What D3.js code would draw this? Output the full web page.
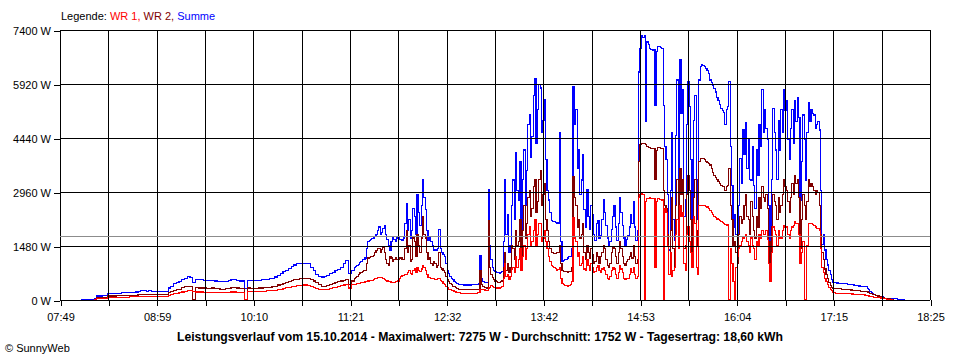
<!DOCTYPE html>
<html><head><meta charset="utf-8">
<script src="https://cdn.jsdelivr.net/npm/d3@7"></script>
<style>
body{margin:0;background:#fff}
svg{display:block}
text{font-family:"Liberation Sans",Arial,sans-serif;font-size:11px;fill:#000}
</style>
</head><body><svg id="c" width="960" height="360"></svg>
<script>
// ---- data ----
// morning samples every 2 minutes, from 11:24 on every minute
const start2min = "08:04", start1min = "11:24";
const axisStart = "07:49", axisEnd = "18:25";
const xTickLabels = ["07:49","08:59","10:10","11:21","12:32","13:42","14:53","16:04","17:15","18:25"];
const yTicks = [0,1480,2960,4440,5920,7400];
const average = 1752;
const legendItems = [["WR 1","#ff0000"],["WR 2","#800000"],["Summe","#0000ff"]];
const title = "Leistungsverlauf vom 15.10.2014 - Maximalwert: 7275 W - Durchschnitt: 1752 W - Tagesertrag: 18,60 kWh";
const credit = "\u00A9 SunnyWeb";

const summe2min = [20,20,25,25,25,30,110,110,120,120,
180,180,190,190,190,200,200,200,210,210,
220,240,250,250,240,250,230,230,240,230,
230,230,330,380,450,480,500,560,600,640,
620,480,560,550,550,540,530,530,540,520,
510,500,500,510,530,560,570,540,520,520,
320,530,530,540,540,540,550,560,570,580,
600,630,680,720,770,820,870,920,960,1000,
1010,1000,1010,990,900,800,700,650,630,640,
680,720,760,800,840,900,1000,1080,730,820];

const wr2_2min = [null,null,null,null,null,15,70,70,75,75,
110,110,110,115,115,120,120,120,125,125,
130,145,150,150,145,150,140,140,145,140,
140,140,200,230,270,290,300,340,360,380,
370,0,340,330,330,330,320,320,330,320,
310,300,300,310,320,340,350,330,320,320,
0,330,320,320,320,330,330,340,340,350,
360,380,410,430,460,490,510,530,550,560,
590,600,600,590,560,520,480,420,380,370,
400,420,440,470,500,520,540,560,420,520];

const wr1_2min = [null,null,null,null,null,15,40,40,45,45,
70,70,80,75,75,80,80,80,85,85,
90,95,100,100,95,100,90,90,95,90,
90,90,130,150,180,190,200,220,240,260,
250,240,220,220,220,210,210,210,210,200,
200,200,200,200,210,220,220,210,200,200,
0,230,230,230,235,240,240,245,250,255,
260,270,290,300,320,340,350,370,380,390,
400,410,410,400,380,350,320,300,290,290,
300,320,340,350,370,390,410,420,330,430];

const summe1min = [900,920,950,980,1020,1060,1100,1120,1150,1400,
1600,1620,1650,1680,1700,1750,1800,1900,2000,1800,
1850,1950,2050,1800,1650,1500,1370,1600,1700,1650,
1600,1700,1750,1650,1650,1620,1700,2100,2650,1900,
2200,1700,1900,2500,2300,1800,2880,2400,2050,2600,
3290,2800,2470,1900,1640,1700,1600,1500,1370,1370,
1370,1400,1920,1400,1300,1250,1200,1000,800,720,
650,600,550,510,480,450,430,425,420,415,
410,410,410,410,410,410,420,420,420,420,
430,440,1230,600,500,490,480,470,3015,1500,
1100,900,800,780,760,750,740,760,780,1600,
3290,1800,2330,1300,1500,2600,3290,2200,4030,3000,
2740,3800,1780,3300,4110,2600,3560,4800,5070,3900,
4470,5600,6080,4300,5210,5900,5810,4600,4930,5500,
3840,3000,2740,2400,2190,2150,2140,2120,2110,2110,
4600,1600,1050,1080,1100,1120,1150,1180,1200,1400,
5840,4800,5210,3600,4110,2900,3290,4000,2470,2000,
3015,2300,1920,2600,2330,1800,1640,2100,2190,1700,
1780,2200,2740,2400,2050,1700,1500,1600,1920,2300,
2600,2000,1640,2100,2800,2400,2050,1700,1500,1650,
1780,2000,2330,2100,2690,2000,1640,1900,6250,6900,
7260,7200,7235,4900,7070,7000,6900,6870,6850,6860,
5340,6800,6960,6950,6930,6900,5340,4200,3840,2900,
1370,3000,4600,2200,1640,4500,6030,3200,6580,5100,
5760,2300,2740,4800,5980,5300,3840,2200,4930,5600,
3290,2200,6030,6400,6440,6420,6390,6350,6300,6200,
6030,5950,5890,5800,5700,5550,5480,5350,5260,5200,
5150,4800,5210,5300,5980,4200,3150,2000,2330,1800,
1370,2600,3890,3200,4660,4000,4850,3600,4390,3300,
3290,4200,3150,2500,4110,3400,4800,4200,5760,4600,
5210,4700,4390,2600,1000,3300,5260,4600,4110,3300,
4930,4100,5210,4600,5760,5200,5480,4400,3840,4700,
5210,4300,5480,4900,5560,5000,2740,3800,5070,4400,
3290,4600,5400,4900,5210,5100,5070,4700,4800,4900,
4660,3000,1510,1800,1370,1100,960,800,690,560,
490,480,470,465,460,455,450,445,440,440,
440,435,430,425,420,410,400,395,390,385,
380,375,370,365,360,320,280,240,200,170,
140,130,120,110,100,95,90,70,50,45,
40,40,40,35,30,30,30,25,20,20,
20,20,20,20];

const wr2_1min = [600,620,650,700,740,760,780,800,820,1000,
1150,1160,1180,1200,1230,1300,1350,1400,1420,1300,
1380,1450,1300,1100,1000,950,1200,1150,1050,1100,
1150,1120,1100,1150,1150,1100,1120,1400,1900,1300,
1500,1050,1100,1700,1600,1200,1800,1500,1300,1700,
2280,1800,1700,1300,1100,1150,1000,950,1050,1000,
900,950,1300,900,850,800,760,650,550,500,
450,420,380,360,340,320,300,295,290,285,
280,280,280,280,280,280,280,280,290,290,
290,300,820,420,360,350,340,330,2190,900,
700,620,560,520,500,490,480,500,520,900,
1300,800,1000,750,900,1500,1400,1100,1900,1500,
1600,2200,1200,1900,2600,1700,2100,2800,3000,2300,
2500,3100,3300,2400,2700,3300,3560,2600,2900,3200,
2200,1900,1600,1400,1300,1290,1280,1280,1290,1290,
1500,1000,800,790,780,770,760,770,790,900,
3370,2800,2600,2000,2200,1700,1800,2100,1300,1100,
1500,1300,1150,1400,1250,1000,1050,1300,1200,1000,
1200,1300,1500,1400,1100,950,900,1000,1300,1450,
1400,1200,1000,1300,1600,1400,1200,1000,950,1050,
1100,1200,1300,1150,1500,1200,1000,1100,3800,4250,
4300,4300,4280,4250,4200,4180,4170,4160,4150,4150,
3300,4100,4170,4170,4160,4150,3000,2600,2500,1800,
700,1900,2800,1400,900,2600,3300,2000,3600,2900,
3300,1400,1500,2900,3400,3000,2200,1300,2800,3300,
1900,1500,3800,3880,3890,3870,3840,3800,3780,3750,
3700,3600,3500,3400,3350,3300,3250,3200,3150,3120,
3100,3000,3100,3150,3600,2600,2200,1500,1600,1300,
1000,1800,2300,2100,2200,2600,2900,2300,2200,1800,
2700,2300,1900,1700,2300,2000,2800,2500,3100,2800,
2700,2900,2500,1600,600,2000,2900,2700,2600,2200,
2800,2400,2600,2900,3300,3100,3000,2700,2400,2800,
3200,2900,3400,3200,3300,2800,1400,2200,2900,2600,
2200,2700,3300,3100,3200,3100,3000,2900,3000,2950,
2600,1800,1300,1100,850,700,600,480,400,350,
320,315,310,310,310,305,300,300,300,300,
285,280,280,275,270,265,260,255,250,250,
245,242,240,238,235,220,200,190,180,160,
140,130,120,110,100,90,80,65,50,45,
40,30,20,15,10,null,null,null,null,null,
null,null,null,null];

const wr1_1min = [430,435,440,450,460,470,480,490,500,510,
520,530,540,545,550,580,600,610,620,620,
620,600,560,540,520,510,500,490,480,490,
500,510,520,580,640,660,680,690,700,750,
800,720,700,820,850,760,900,820,780,850,
950,880,820,700,620,610,600,590,580,570,
560,580,600,540,500,460,420,380,330,300,
280,265,250,235,220,210,200,195,190,188,
185,185,185,185,185,185,190,190,190,190,
200,210,300,290,280,275,270,265,330,350,
400,380,350,340,330,330,330,340,360,600,
1000,650,700,560,650,850,900,750,1200,900,
1100,1400,800,1200,1500,1100,1400,1800,2000,1500,
1600,1900,2200,1500,1800,2100,2100,1600,1700,1900,
1600,1400,1200,1050,950,920,900,860,820,830,
900,600,450,420,400,390,380,400,420,500,
2270,1700,1600,1200,1300,950,1000,1200,850,800,
1100,950,820,1000,900,750,780,900,950,800,
750,850,900,800,700,600,550,650,800,900,
850,700,600,750,950,850,750,600,550,600,
600,700,850,750,900,700,600,650,2800,2900,
2930,2900,0,2700,2770,2780,2800,2790,2790,2780,
900,2700,2770,2760,2750,2740,0,2500,2400,1500,
700,1300,650,800,900,1800,2200,1400,2600,2300,
2400,1000,800,1800,2000,1600,1300,900,2300,2100,
900,700,2600,2600,2600,2590,2580,2560,2550,2500,
2450,2400,2350,2300,2250,2220,2200,2180,2150,2120,
2100,2080,2050,2060,0,1400,1000,500,0,900,
1200,1400,1500,1600,1700,1750,1800,1600,1500,1300,
1700,1500,1400,1100,1600,1500,1800,1700,1900,1800,
1800,1900,1650,1000,500,1300,2000,1900,1800,1500,
1900,1700,1700,1900,2050,2000,2000,1800,1700,1900,
2000,2050,2150,2100,2100,1800,1000,1300,1600,0,
0,1500,2100,2100,2100,2080,2050,2000,1950,1950,
1900,1400,900,750,600,500,420,350,300,250,
200,195,190,188,185,185,185,183,180,178,
175,173,170,168,165,162,160,155,150,148,
145,142,140,138,135,120,110,100,90,85,
80,75,70,65,60,55,50,40,30,25,
20,15,10,10,10,null,null,null,null,null,
null,null,null,null];

// ---- chart ----
const toMin = s => (+s.slice(0,2))*60 + (+s.slice(3,5));
const tA = toMin(axisStart), tB = toMin(axisEnd);
const t2 = toMin(start2min), t1 = toMin(start1min);
const series = (a2, a1) => a2.map((v,i) => ({t: t2 + 2*i, v}))
  .concat(a1.map((v,i) => ({t: t1 + i, v})));

const x = d3.scaleLinear().domain([tA, tB]).range([60, 930]);
const y = d3.scaleLinear().domain([0, 7400]).range([300, 30]);
const svg = d3.select("#c");
const gridTimes = d3.range(19).map(k => tA + k*(tB - tA)/18);

const line = d3.line()
  .defined(d => d.v != null)
  .x(d => x(d.t)).y(d => y(d.v))
  .curve(d3.curveStepAfter);

[[series(summe2min, summe1min),"#0000ff"],
 [series(wr2_2min, wr2_1min),"#800000"],
 [series(wr1_2min, wr1_1min),"#ff0000"]].forEach(([s,c]) => {
  svg.append("path").datum(s).attr("d", line)
    .attr("fill","none").attr("stroke",c).attr("stroke-width",1.1)
    .attr("shape-rendering","crispEdges");
});

// grid (on top of the data, as in the original)
const grid = svg.append("g").attr("shape-rendering","crispEdges");
grid.selectAll("line.h").data(yTicks).join("line")
  .attr("x1", x(tA)).attr("x2", x(tB))
  .attr("y1", d => Math.round(y(d))+0.5).attr("y2", d => Math.round(y(d))+0.5)
  .attr("stroke","#000");
grid.selectAll("line.v").data(gridTimes).join("line")
  .attr("x1", d => Math.round(x(d))+0.5).attr("x2", d => Math.round(x(d))+0.5)
  .attr("y1", y(7400)).attr("y2", y(0))
  .attr("stroke","#000");
svg.append("line")
  .attr("x1", x(tA)).attr("x2", x(tB))
  .attr("y1", Math.round(y(average))+0.5).attr("y2", Math.round(y(average))+0.5)
  .attr("stroke","#8c8c8c").attr("shape-rendering","crispEdges");

// axes
const yAxis = svg.append("g").attr("transform","translate(60,0.5)")
  .call(d3.axisLeft(y).tickValues(yTicks).tickSize(6).tickPadding(3).tickFormat(d => d + " W"));
const xAxis = svg.append("g").attr("transform","translate(0.5,300)")
  .call(d3.axisBottom(x).tickValues(gridTimes).tickSize(6).tickPadding(7)
    .tickFormat((d,i) => i % 2 === 0 ? xTickLabels[i/2] : ""));
[yAxis, xAxis].forEach(g => {
  g.select(".domain").remove();
  g.attr("font-family", null).attr("font-size", null);
  g.selectAll("line").attr("stroke","#000").attr("shape-rendering","crispEdges");
  g.selectAll("text").attr("fill","#000");
});

// legend
const lg = svg.append("text").attr("x", 61).attr("y", 20);
lg.append("tspan").text("Legende: ");
legendItems.forEach(([n,c],i) => {
  lg.append("tspan").attr("fill", c).text(n + (i < legendItems.length-1 ? ", " : ""));
});

// title + credit
svg.append("text").attr("x", 480).attr("y", 341).attr("text-anchor","middle")
  .attr("font-weight","bold").style("font-size","12.2px").text(title);
svg.append("text").attr("x", 5).attr("y", 352).text(credit);
</script>
</body></html>
